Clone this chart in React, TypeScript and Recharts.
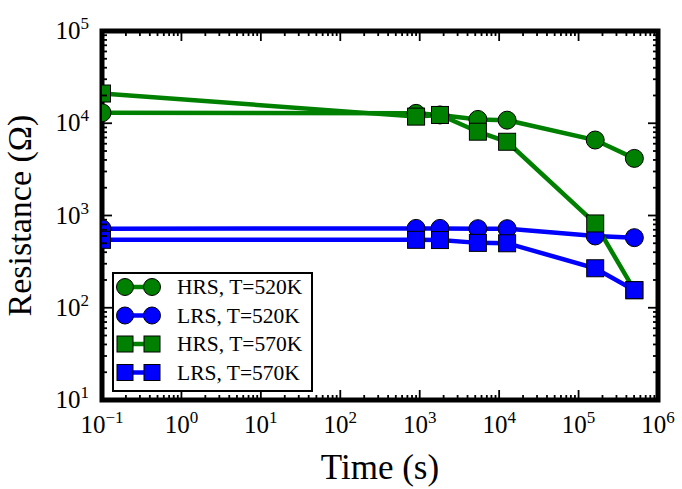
import React from "react";
import { LineChart, Line, XAxis, YAxis, ReferenceArea, Legend } from "recharts";

// time in seconds (log axis)
const TIME = [0.1, 900, 1800, 5400, 12600, 162000, 504000];
// resistance in ohms
const HRS_520 = [13000, 12800, 12300, 11000, 10800, 6580, 4160];
const LRS_520 = [720, 725, 725, 720, 720, 600, 575];
const HRS_570 = [21000, 11800, 12300, 8100, 6300, 820, 155];
const LRS_570 = [545, 545, 542, 505, 500, 268, 155];

const X_DECADES = [-1, 0, 1, 2, 3, 4, 5, 6];
const Y_DECADES = [1, 2, 3, 4, 5];

const GREEN = "#008000";
const BLUE = "#0000ff";
const FONT = "'Liberation Serif', 'DejaVu Serif', serif";

const PLOT_TOP = 31;
const PLOT_LEFT = 102;
const PLOT_RIGHT = 658;

const withMinors = (decades: number[]) => {
  const out: number[] = [];
  decades.forEach((d, i) => {
    out.push(Math.pow(10, d));
    if (i < decades.length - 1) {
      for (let k = 2; k <= 9; k++) out.push(k * Math.pow(10, d));
    }
  });
  return out;
};

const X_TICKS = withMinors(X_DECADES);
const Y_TICKS = withMinors(Y_DECADES);

const data = TIME.map((t, i) => ({
  time: t,
  hrs520: HRS_520[i],
  lrs520: LRS_520[i],
  hrs570: HRS_570[i],
  lrs570: LRS_570[i],
}));

const SERIES = [
  { key: "hrs520", name: "HRS, T=520K", color: GREEN, shape: "circle" },
  { key: "lrs520", name: "LRS, T=520K", color: BLUE, shape: "circle" },
  { key: "hrs570", name: "HRS, T=570K", color: GREEN, shape: "square" },
  { key: "lrs570", name: "LRS, T=570K", color: BLUE, shape: "square" },
];

function decadeOf(v: number) {
  const e = Math.round(Math.log10(v));
  return { e, major: Math.abs(Math.log10(v) - e) < 1e-6 };
}

const expLabel = (e: number) => (e < 0 ? "\u2212" + Math.abs(e) : String(e));

function XTick(props: any) {
  const { x, y, payload } = props;
  const { e, major } = decadeOf(payload.value);
  const len = major ? 10 : 5;
  return (
    <g>
      <line x1={x} x2={x} y1={y} y2={y - len} stroke="#000" strokeWidth={1.8} />
      <line x1={x} x2={x} y1={PLOT_TOP} y2={PLOT_TOP + len} stroke="#000" strokeWidth={1.8} />
      {major && (
        <text x={x} y={y + 33} textAnchor="middle" fontFamily={FONT} fontSize={25} fill="#000">
          <tspan>10</tspan>
          <tspan dy={-10} fontSize={17}>
            {expLabel(e)}
          </tspan>
        </text>
      )}
    </g>
  );
}

function YTick(props: any) {
  const { x, y, payload } = props;
  const { e, major } = decadeOf(payload.value);
  const len = major ? 10 : 5;
  return (
    <g>
      <line x1={x} x2={x + len} y1={y} y2={y} stroke="#000" strokeWidth={1.8} />
      <line x1={PLOT_RIGHT} x2={PLOT_RIGHT - len} y1={y} y2={y} stroke="#000" strokeWidth={1.8} />
      {major && (
        <text x={x - 13} y={y + 8} textAnchor="end" fontFamily={FONT} fontSize={25} fill="#000">
          <tspan>10</tspan>
          <tspan dy={-10} fontSize={17}>
            {expLabel(e)}
          </tspan>
        </text>
      )}
    </g>
  );
}

function Marker({ cx, cy, color, shape, size }: any) {
  if (shape === "square") {
    return (
      <rect x={cx - size} y={cy - size} width={size * 2} height={size * 2} fill={color} stroke="#000" strokeWidth={1} />
    );
  }
  return <circle cx={cx} cy={cy} r={size} fill={color} stroke="#000" strokeWidth={1} />;
}

function LegendBox() {
  return (
    <svg width={202} height={121} style={{ display: "block" }}>
      <rect x={1} y={1} width={199} height={118} fill="#fff" stroke="#000" strokeWidth={2} />
      {SERIES.map((s, i) => {
        const cy = 15 + i * 28.5;
        return (
          <g key={s.key}>
            <line x1={13} x2={40} y1={cy} y2={cy} stroke={s.color} strokeWidth={4.5} />
            <Marker cx={13} cy={cy} color={s.color} shape={s.shape} size={s.shape === "square" ? 8 : 8.5} />
            <Marker cx={40} cy={cy} color={s.color} shape={s.shape} size={s.shape === "square" ? 8 : 8.5} />
            <text x={65} y={cy + 7} fontFamily={FONT} fontSize={21.5} fill="#000">
              {s.name}
            </text>
          </g>
        );
      })}
    </svg>
  );
}

function YLabel(props: any) {
  const { viewBox } = props;
  const cy = viewBox.y + viewBox.height / 2;
  return (
    <text
      x={31}
      y={cy}
      transform={`rotate(-90, 31, ${cy})`}
      textAnchor="middle"
      fontFamily={FONT}
      fontSize={34}
      fill="#000"
    >
      Resistance (Ω)
    </text>
  );
}

export default function App() {
  return (
    <div style={{ position: "absolute", left: 0, top: 0, width: 682, height: 489, background: "#fff" }}>
      <LineChart width={682} height={489} data={data} margin={{ top: PLOT_TOP, right: 24, left: 0, bottom: 0 }}>
        <XAxis
          dataKey="time"
          type="number"
          scale="log"
          domain={[0.1, 1e6]}
          allowDataOverflow
          ticks={X_TICKS}
          interval={0}
          height={89}
          axisLine={false}
          tickLine={false}
          tickSize={0}
          tickMargin={0}
          tick={<XTick />}
          label={{
            value: "Time (s)",
            position: "insideBottom",
            offset: 10,
            style: { fontFamily: FONT, fontSize: 35, fill: "#000" },
          }}
        />
        <YAxis
          type="number"
          scale="log"
          domain={[10, 1e5]}
          allowDataOverflow
          ticks={Y_TICKS}
          interval={0}
          width={PLOT_LEFT}
          axisLine={false}
          tickLine={false}
          tickSize={0}
          tickMargin={0}
          tick={<YTick />}
          label={<YLabel />}
        />
        {SERIES.map((s) => (
          <Line
            key={s.key}
            dataKey={s.key}
            name={s.name}
            stroke={s.color}
            strokeWidth={4.5}
            isAnimationActive={false}
            dot={(p: any) => (
              <Marker key={s.key + p.index} cx={p.cx} cy={p.cy} color={s.color} shape={s.shape} size={s.shape === "square" ? 8.5 : 9} />
            )}
            activeDot={false}
          />
        ))}
        <ReferenceArea
          x1={0.1}
          x2={1e6}
          y1={10}
          y2={1e5}
          ifOverflow="visible"
          fill="none"
          stroke="#000"
          strokeWidth={5}
        />
        <Legend
          layout="horizontal"
          verticalAlign="middle"
          align="center"
          wrapperStyle={{ left: 112, top: 272, width: 202, height: 121 }}
          content={() => <LegendBox />}
        />
      </LineChart>
    </div>
  );
}
